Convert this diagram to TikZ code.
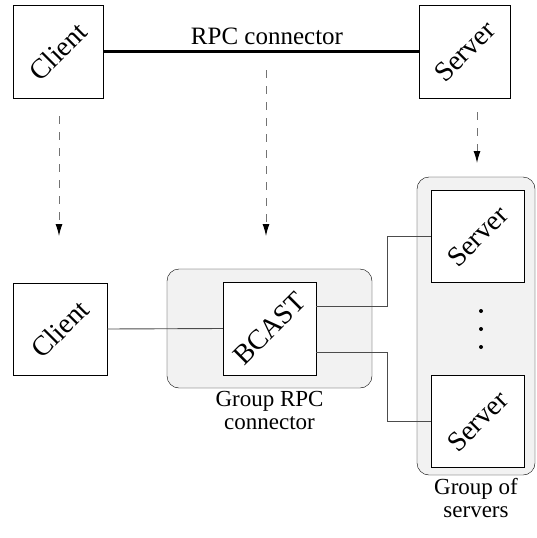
\documentclass[tikz,border=0pt]{standalone}
\usepackage{fontspec}
\setmainfont{Liberation Serif}
\usetikzlibrary{positioning}
\usetikzlibrary{arrows.meta}
\tikzset{
  box/.style={draw, fill=white, minimum width=92pt, minimum height=92pt, inner sep=0pt},
  boxtext/.style={rotate=45, inner sep=0pt, font=\fontsize{28}{30}\selectfont},
  group/.style={draw, fill=black!5, rounded corners=12pt, inner sep=0pt},
  wire/.style={draw=black!70, line width=0.9pt},
  refine/.style={draw=black!55, dash pattern=on 8pt off 8pt, line width=1pt},
  tip/.style={-{Latex[length=12pt,width=7pt,black]}}
}
\begin{document}
\begin{tikzpicture}[x=1pt, y=-1pt, font=\fontsize{23}{23}\selectfont]
  \useasboundingbox (0,0) rectangle (537,538);
  % groups
  \node (grpc) [group, minimum width=205pt, minimum height=119pt] at (269.5,328.5) {};
  \node (gsrv) [group, minimum width=118pt, minimum height=298pt] at (476,326) {};
  % boxes
  \node (client) [box, minimum width=90pt, minimum height=93pt] at (58,51.5) {};
  \node (server) [box, minimum width=91pt, minimum height=93pt] at (464.5,51.5) {};
  \node (client2) [box, minimum width=94pt] at (60,329) {};
  \node (bcast) [box, minimum width=93pt, minimum height=93pt] at (269.5,328.5) {};
  \node (server1) [box, minimum width=93pt] at (477.5,236) {};
  \node (server2) [box, minimum width=93pt] at (477.5,421) {};
  \node (clienttext) [boxtext] at (client) {Client};
  \node (servertext) [boxtext] at (server) {Server};
  \node (client2text) [boxtext] at (client2) {Client};
  \node (bcasttext) [boxtext] at (bcast) {BCAST};
  \node (server1text) [boxtext] at (server1) {Server};
  \node (server2text) [boxtext] at (server2) {Server};
  % labels
  \node (rpclabel) [font=\fontsize{25}{27}\selectfont] at (267,36) {RPC connector};
  \node (grpclabel) [below=0pt of grpc, align=center] {Group RPC\\connector};
  \node (gsrvlabel) [below=0pt of gsrv, align=center] {Group of\\servers};
  % dots
  \foreach \y in {311,329,347}
    \fill (481,\y) circle (2pt);
  % arrows
  \coordinate (a1) at (59,116);
  \coordinate (b1) at (59,236);
  \coordinate (a2) at (266,70);
  \coordinate (b2) at (266,236);
  \coordinate (a3) at (477,112);
  \coordinate (b3) at (477,163);
  \coordinate (up) at (387,306);
  \coordinate (down) at (387,352);
  \path[refine, tip] (a1) -- (b1);
  \path[refine, tip] (a2) -- (b2);
  \path[refine, tip] (a3) -- (b3);
  % connectors
  \draw[line width=2.6pt] (client.east) -- (server.west);
  \path[wire] (client2.east) -- (bcast.west);
  \path[wire] (bcast.east |- up) -- (up) |- (server1.west);
  \path[wire] (bcast.east |- down) -- (down) |- (server2.west);
\end{tikzpicture}
\end{document}
